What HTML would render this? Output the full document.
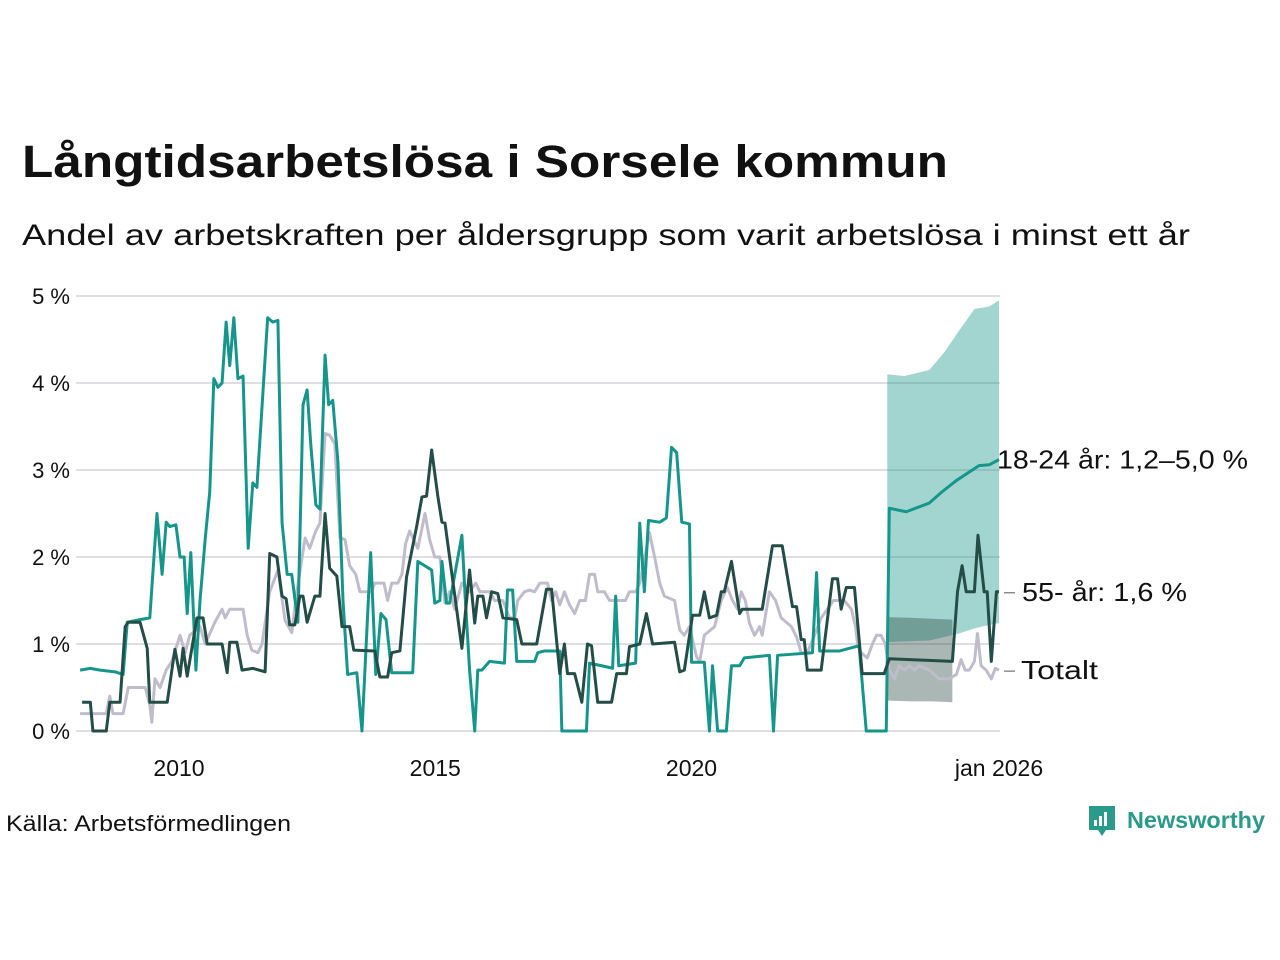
<!DOCTYPE html>
<html><head><meta charset="utf-8">
<style>
body{margin:0;background:#fff;width:1280px;height:960px;overflow:hidden;font-family:"Liberation Sans",sans-serif;}
svg{position:absolute;left:0;top:0}
</style></head>
<body>
<svg id="chart" width="1280" height="960">
<text x="22" y="177" font-size="45" font-weight="bold" fill="#111" textLength="926" lengthAdjust="spacingAndGlyphs">Långtidsarbetslösa i Sorsele kommun</text>
<text x="22" y="245" font-size="30" fill="#111" textLength="1168" lengthAdjust="spacingAndGlyphs">Andel av arbetskraften per åldersgrupp som varit arbetslösa i minst ett år</text>
<g id="grid"></g><g id="bands"></g><g id="lines"></g><g id="labels"></g>
<text x="6" y="831" font-size="22" fill="#111" textLength="285" lengthAdjust="spacingAndGlyphs">Källa: Arbetsförmedlingen</text>
<g>
<path d="M1089 806 h26 v24 h-9 l-4 6 l-4 -6 h-9 z" fill="#2a9a8a"/>
<rect x="1094" y="820" width="3" height="6" fill="#fff"/><rect x="1099" y="816" width="3" height="10" fill="#fff"/><rect x="1104" y="812" width="3" height="14" fill="#fff"/>
<text x="1127" y="828" font-size="23" font-weight="bold" fill="#2a9a8a" textLength="138" lengthAdjust="spacingAndGlyphs">Newsworthy</text>
</g>
</svg>
<script>
const tealDates=[2008.07,2008.27,2008.46,2008.75,2008.91,2008.99,2009.24,2009.43,2009.57,2009.67,2009.75,2009.82,2009.94,2010.02,2010.10,2010.16,2010.23,2010.33,2010.41,2010.51,2010.60,2010.68,2010.76,2010.84,2010.92,2010.99,2011.07,2011.15,2011.25,2011.35,2011.44,2011.52,2011.73,2011.83,2011.93,2012.01,2012.11,2012.20,2012.32,2012.42,2012.50,2012.57,2012.67,2012.75,2012.85,2012.92,2013.00,2013.10,2013.20,2013.29,2013.47,2013.57,2013.74,2013.84,2013.94,2014.04,2014.15,2014.56,2014.66,2014.93,2014.99,2015.09,2015.13,2015.22,2015.28,2015.52,2015.59,2015.67,2015.77,2015.83,2015.91,2016.06,2016.35,2016.41,2016.51,2016.59,2016.94,2017.00,2017.13,2017.43,2017.47,2017.95,2018.01,2018.40,2018.46,2018.52,2018.58,2018.91,2018.99,2019.08,2019.16,2019.38,2019.51,2019.61,2019.71,2019.81,2019.96,2020.00,2020.25,2020.35,2020.41,2020.51,2020.68,2020.78,2020.94,2021.03,2021.52,2021.60,2021.68,2022.36,2022.44,2022.50,2022.89,2023.27,2023.41,2023.80,2023.86,2024.19,2024.64,2024.89,2025.17,2025.61,2025.81,2026.00];
const tealValues=[0.7,0.72,0.7,0.68,0.65,1.25,1.28,1.3,2.5,1.8,2.4,2.35,2.37,2.0,2.0,1.35,2.05,0.7,1.5,2.2,2.75,4.05,3.95,4.0,4.7,4.2,4.75,4.05,4.08,2.1,2.85,2.8,4.75,4.7,4.72,2.4,1.8,1.8,1.25,3.75,3.92,3.3,2.6,2.55,4.32,3.75,3.8,3.1,1.5,0.65,0.67,0.0,2.05,0.65,1.35,1.28,0.67,0.67,1.95,1.85,1.47,1.5,1.95,1.47,1.47,2.25,1.48,0.7,0.0,0.7,0.7,0.8,0.78,1.62,1.62,0.8,0.8,0.9,0.92,0.92,0.0,0.0,0.78,0.73,0.72,1.55,0.75,0.78,2.39,1.6,2.42,2.4,2.45,3.26,3.2,2.4,2.38,0.79,0.79,0.0,0.75,0.0,0.0,0.75,0.75,0.84,0.87,0.0,0.87,0.9,1.82,0.92,0.92,0.98,0.0,0.0,2.56,2.52,2.62,2.75,2.88,3.05,3.06,3.12];
const oldDates=[2008.11,2008.27,2008.32,2008.58,2008.65,2008.85,2008.95,2009.01,2009.24,2009.38,2009.43,2009.77,2009.92,2010.02,2010.08,2010.16,2010.35,2010.47,2010.55,2010.84,2010.94,2010.99,2011.13,2011.23,2011.44,2011.68,2011.77,2011.91,2012.01,2012.09,2012.16,2012.26,2012.36,2012.42,2012.50,2012.65,2012.75,2012.85,2012.94,2013.08,2013.18,2013.33,2013.41,2013.82,2013.92,2014.07,2014.15,2014.31,2014.44,2014.64,2014.74,2014.83,2014.93,2015.05,2015.13,2015.19,2015.52,2015.67,2015.77,2015.83,2015.93,2016.00,2016.10,2016.22,2016.32,2016.59,2016.69,2016.98,2017.17,2017.27,2017.43,2017.52,2017.58,2017.72,2017.86,2017.97,2018.05,2018.17,2018.44,2018.54,2018.73,2018.79,2018.99,2019.12,2019.24,2019.67,2019.77,2019.86,2020.02,2020.16,2020.25,2020.35,2020.49,2020.58,2020.64,2020.78,2020.94,2020.99,2021.38,2021.58,2021.77,2021.97,2022.05,2022.14,2022.20,2022.26,2022.53,2022.75,2022.85,2022.92,2023.02,2023.18,2023.33,2023.76,2023.86,2025.09,2025.19,2025.28,2025.36,2025.52,2025.59,2025.71,2025.77,2025.85,2025.95,2026.00];
const oldValues=[0.33,0.33,0,0,0.33,0.33,1.2,1.25,1.25,0.95,0.33,0.33,0.94,0.63,0.95,0.63,1.3,1.3,1.0,1.0,0.67,1.02,1.02,0.7,0.72,0.68,2.04,2.0,1.55,1.52,1.22,1.22,1.55,1.55,1.25,1.55,1.55,2.5,1.87,1.78,1.2,1.2,0.93,0.92,0.62,0.62,0.9,0.92,1.77,2.36,2.69,2.7,3.23,2.7,2.4,2.39,0.95,1.85,1.24,1.55,1.55,1.3,1.6,1.58,1.3,1.28,1.0,1.0,1.63,1.63,0.66,1.0,0.66,0.66,0.33,1.0,0.98,0.33,0.33,0.66,0.66,0.97,1.0,1.35,1.0,1.02,0.68,0.7,1.33,1.33,1.6,1.3,1.33,1.6,1.6,1.95,1.35,1.4,1.4,2.13,2.13,1.43,1.43,1.05,1.05,0.7,0.7,1.75,1.75,1.4,1.65,1.65,0.66,0.66,0.83,0.8,1.6,1.9,1.6,1.6,2.25,1.6,1.6,0.8,1.6,1.6];
const totDates=[2008.07,2008.58,2008.65,2008.71,2008.91,2009.01,2009.34,2009.43,2009.47,2009.53,2009.63,2009.75,2009.86,2010.02,2010.12,2010.21,2010.41,2010.51,2010.70,2010.84,2010.90,2010.99,2011.25,2011.33,2011.42,2011.54,2011.62,2011.77,2011.93,2012.07,2012.20,2012.30,2012.46,2012.55,2012.67,2012.75,2012.85,2012.94,2013.04,2013.14,2013.24,2013.33,2013.45,2013.53,2013.76,2013.82,2014.00,2014.07,2014.15,2014.27,2014.35,2014.42,2014.50,2014.66,2014.80,2014.89,2014.99,2015.09,2015.19,2015.28,2015.38,2015.52,2015.67,2015.79,2015.87,2016.06,2016.16,2016.32,2016.45,2016.55,2016.61,2016.74,2016.84,2016.94,2017.04,2017.19,2017.27,2017.35,2017.43,2017.52,2017.62,2017.72,2017.82,2017.93,2018.01,2018.11,2018.17,2018.30,2018.40,2018.71,2018.79,2018.91,2018.99,2019.18,2019.28,2019.38,2019.47,2019.67,2019.77,2019.86,2019.96,2020.10,2020.16,2020.25,2020.45,2020.58,2020.70,2020.80,2020.90,2020.97,2021.05,2021.13,2021.23,2021.33,2021.38,2021.52,2021.64,2021.75,2021.95,2022.05,2022.14,2022.26,2022.40,2022.53,2022.65,2022.77,2022.89,2022.98,2023.12,2023.20,2023.24,2023.31,2023.43,2023.53,2023.61,2023.70,2023.78,2023.86,2023.96,2024.05,2024.15,2024.25,2024.35,2024.44,2024.64,2024.83,2025.03,2025.17,2025.26,2025.34,2025.42,2025.52,2025.58,2025.65,2025.75,2025.85,2025.93,2026.00];
const totValues=[0.2,0.2,0.4,0.2,0.2,0.5,0.5,0.3,0.1,0.6,0.5,0.7,0.8,1.1,0.9,1.1,1.2,1.0,1.25,1.4,1.3,1.4,1.4,1.1,0.93,0.9,1.0,1.6,1.85,1.27,1.13,1.6,2.22,2.1,2.3,2.39,3.42,3.4,3.3,2.22,2.2,1.9,1.8,1.6,1.6,1.7,1.7,1.5,1.7,1.7,1.8,2.15,2.3,2.1,2.5,2.2,2.0,2.0,1.47,1.6,1.4,1.7,1.6,1.7,1.6,1.6,1.5,1.5,1.3,1.3,1.5,1.6,1.62,1.6,1.7,1.7,1.5,1.6,1.45,1.6,1.45,1.35,1.5,1.5,1.8,1.8,1.6,1.6,1.5,1.5,1.6,1.6,1.7,2.28,2.0,1.7,1.55,1.5,1.16,1.1,1.2,0.85,0.8,1.1,1.2,1.5,1.65,1.5,1.4,1.6,1.5,1.24,1.1,1.2,1.1,1.6,1.5,1.3,1.2,1.08,0.9,0.9,1.1,1.3,1.4,1.5,1.5,1.5,1.4,1.2,1.0,0.9,0.84,1.0,1.1,1.1,1.0,0.7,0.6,0.75,0.7,0.75,0.7,0.75,0.7,0.6,0.6,0.65,0.82,0.7,0.7,0.8,1.12,0.75,0.7,0.6,0.72,0.7];
const tealBandDates=[2023.82,2024.15,2024.64,2024.93,2025.22,2025.52,2025.81,2026.0];
const tealBandUpper=[4.1,4.08,4.15,4.35,4.6,4.85,4.88,4.95];
const tealBandLower=[1.02,1.03,1.04,1.08,1.12,1.18,1.22,1.24];
const oldBandDates=[2023.82,2024.3,2024.7,2025.09];
const oldBandUpper=[1.31,1.3,1.29,1.28];
const oldBandLower=[0.35,0.34,0.34,0.33];
const yTicks=[0,1,2,3,4,5];
const yTickLabels=["0 %","1 %","2 %","3 %","4 %","5 %"];
const xTicks=[2010,2015,2020,2026];
const xTickLabels=["2010","2015","2020","jan 2026"];

const NS="http://www.w3.org/2000/svg";
const X=t=>179+(t-2010)*51.25;
const Y=v=>731-v*87;
function mk(tag,attrs,parent){const e=document.createElementNS(NS,tag);for(const k in attrs)e.setAttribute(k,attrs[k]);document.getElementById(parent).appendChild(e);return e;}
yTicks.forEach((v,i)=>{
  const l=mk('line',{x1:76,x2:1000,y1:Y(v),y2:Y(v),stroke:'#e0dee3','stroke-width':2},'grid');
  
  
  const t=mk('text',{x:70,y:Y(v)+8,'font-size':22,fill:'#111','text-anchor':'end'},'grid');
  t.textContent=yTickLabels[i];
  
  
});
xTicks.forEach((v,i)=>{
  const t=mk('text',{x:X(v),y:776,'font-size':23,fill:'#111','text-anchor':'middle'},'grid');
  t.textContent=xTickLabels[i];
  
  
});
function band(d,u,l,fill,op,name){
  let p='M'+d.map((t,i)=>X(t)+','+Y(u[i])).join('L');
  for(let i=d.length-1;i>=0;i--)p+='L'+X(d[i])+','+Y(l[i]);
  const e=mk('path',{d:p+'Z',fill:fill,'fill-opacity':op},'bands');
  
  
}
band(tealBandDates,tealBandUpper,tealBandLower,'#16968a',0.4,'youth-forecast-band');
band(oldBandDates,oldBandUpper,oldBandLower,'#2a4a44',0.4,'older-forecast-band');
function line(d,v,col,name){
  const e=mk('polyline',{points:d.map((t,i)=>X(t)+','+Y(v[i])).join(' '),fill:'none',stroke:col,'stroke-width':3,'stroke-linejoin':'round'},'lines');
  
  
}
line(totDates,totValues,'#c0bccb','total-line');
line(tealDates,tealValues,'#16968a','youth-18-24-line');
line(oldDates,oldValues,'#234d46','age-55-line');
function lab(x,y,txt,name,tick,len){
  if(tick){const l=mk('line',{x1:X(2026)+5,x2:X(2026)+16,y1:y-8,y2:y-8,stroke:'#555','stroke-width':1},'labels');
  
  }
  const t=mk('text',{x:x,y:y,'font-size':26,fill:'#111',textLength:len,lengthAdjust:'spacingAndGlyphs'},'labels');
  t.textContent=txt;
  
  
}
lab(997,Y(tealValues[tealValues.length-1])+9,'18-24 år: 1,2–5,0 %','youth-label',false,251);
lab(1022,Y(oldValues[oldValues.length-1])+9,'55- år: 1,6 %','age-55-label',true,165);
lab(1021,Y(totValues[totValues.length-1])+9,'Totalt','total-label',true,77);
</script>
</body></html>
